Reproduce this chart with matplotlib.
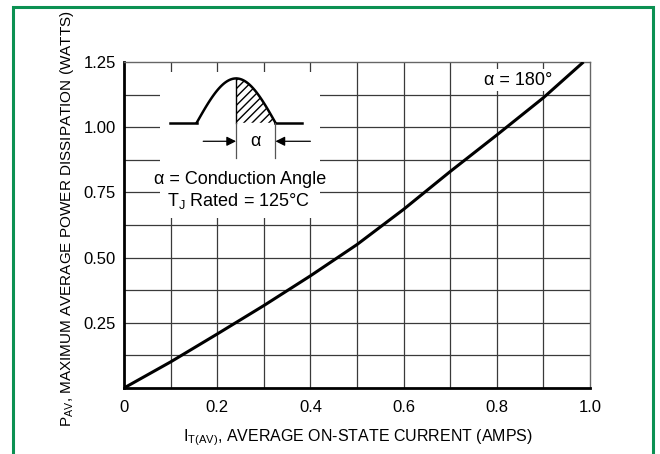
import numpy as np
import matplotlib

matplotlib.use("Agg")
import matplotlib.pyplot as plt
from matplotlib.patches import Rectangle

# curve (alpha = 180 deg)
current = [0.0, 0.1, 0.2, 0.3, 0.4, 0.5, 0.6, 0.7, 0.8, 0.9, 0.986]
power = [0.0, 0.1, 0.207, 0.316, 0.43, 0.55, 0.685, 0.83, 0.97, 1.113, 1.25]

x_ticks = [0, 0.2, 0.4, 0.6, 0.8, 1.0]
x_tick_labels = ["0", "0.2", "0.4", "0.6", "0.8", "1.0"]
y_ticks = [0.25, 0.50, 0.75, 1.00, 1.25]
y_tick_labels = ["0.25", "0.50", "0.75", "1.00", "1.25"]

FONT = "Liberation Sans"
plt.rcParams["font.family"] = [FONT, "DejaVu Sans"]
plt.rcParams["mathtext.fontset"] = "custom"
plt.rcParams["mathtext.rm"] = FONT

GREEN = "#0B9152"

fig = plt.figure(figsize=(6.6, 4.54), dpi=100)
# green frame, open at the bottom of the picture
fig.patches.append(Rectangle((13 / 660, -0.05), (653 - 13) / 660, (454 - 7) / 454 + 0.05,
                             transform=fig.transFigure, fill=False, edgecolor=GREEN,
                             linewidth=2.2))

ax = fig.add_axes([124 / 660, 1 - 388 / 454, (590 - 124) / 660, (388 - 62) / 454])
ax.set_xlim(0, 1.0)
ax.set_ylim(0, 1.25)

for gx in np.arange(0.1, 1.0, 0.1):
    ax.axvline(gx, color="#3a3a3a", linewidth=0.9, zorder=1)
for gy in np.arange(0.125, 1.25, 0.125):
    ax.axhline(gy, color="#3a3a3a", linewidth=0.9, zorder=1)

for side in ("top", "right"):
    ax.spines[side].set_color("#666666")
    ax.spines[side].set_linewidth(1.0)
for side in ("left", "bottom"):
    ax.spines[side].set_color("black")
    ax.spines[side].set_linewidth(2.0)

ax.set_xticks(x_ticks)
ax.set_xticklabels(x_tick_labels, fontsize=12)
ax.set_yticks(y_ticks)
ax.set_yticklabels(y_tick_labels, fontsize=12)
ax.tick_params(axis="x", length=0, pad=9)
ax.tick_params(axis="y", length=0, pad=6)

# white panel behind inset sketch
ax.add_patch(Rectangle((0.077, 0.652), 0.42 - 0.077, 1.213 - 0.652,
                       facecolor="white", edgecolor="none", zorder=2))

# waveform sketch
x0, x1 = 0.156, 0.325
xc = (x0 + x1) / 2
base = 1.017
peak = 1.187
xs = np.linspace(x0, x1, 100)
ys = base + (peak - base) * np.sin(np.pi * (xs - x0) / (x1 - x0))
ax.plot([0.099, x0], [base, base], color="black", linewidth=1.8, zorder=4)
ax.plot(xs, ys, color="black", linewidth=1.8, zorder=4)
ax.plot([x1, 0.383], [base, base], color="black", linewidth=1.8, zorder=4)
hx = xs[xs >= xc]
hy = ys[xs >= xc]
ax.fill_between(hx, base, hy, facecolor="none", edgecolor="black", hatch="////",
                linewidth=0, zorder=3)
ax.plot([xc, xc], [base, peak], color="black", linewidth=1.0, zorder=4)
ax.plot([xc, xc], [base, 0.883], color="#555555", linewidth=0.9, zorder=4)
ax.plot([x1, x1], [base, 0.883], color="#555555", linewidth=0.9, zorder=4)
ax.annotate("", xy=(xc, 0.946), xytext=(0.17, 0.946),
            arrowprops=dict(arrowstyle="-|>", color="black", lw=0.9, mutation_scale=14,
                            shrinkA=0, shrinkB=0), zorder=4)
ax.annotate("", xy=(x1, 0.946), xytext=(0.4, 0.946),
            arrowprops=dict(arrowstyle="-|>", color="black", lw=0.9, mutation_scale=14,
                            shrinkA=0, shrinkB=0), zorder=4)
ax.text((xc + x1) / 2, 0.946, "α", ha="center", va="center", fontsize=13, zorder=5)
ax.text(0.25, 0.80, "α = Conduction Angle", ha="center", va="center",
        fontsize=13, zorder=5)
ax.text(0.245, 0.717, r"T$_\mathregular{J}$ Rated = 125°C", ha="center", va="center",
        fontsize=13, zorder=5)

ax.text(0.92, 1.18, "α = 180°", ha="right", va="center", fontsize=13, zorder=5,
        bbox=dict(facecolor="white", edgecolor="none", pad=2))

ax.plot(current, power, color="black", linewidth=2.2, zorder=6, solid_capstyle="butt")

ax.set_xlabel(r"I$_\mathregular{T(AV)}$, AVERAGE ON-STATE CURRENT (AMPS)", fontsize=11.5)
ax.xaxis.set_label_coords(0.502, -0.12)
ax.set_ylabel(r"P$_\mathregular{AV}$, MAXIMUM AVERAGE POWER DISSIPATION (WATTS)", fontsize=11)
ax.yaxis.set_label_coords(-0.103, 0.52)

fig.savefig("out.png", dpi=100)
